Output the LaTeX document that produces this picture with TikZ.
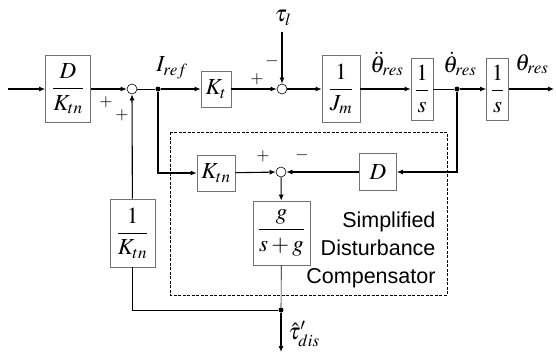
\documentclass[tikz,border=0pt]{standalone}
\usepackage{mathptmx}
\usepackage[no-math]{fontspec}
\newfontfamily\capfont{Liberation Sans}
\usetikzlibrary{arrows.meta, positioning, calc}

\begin{document}
\begin{tikzpicture}[x=1pt, y=-1pt,
  blk/.style={draw=black!55, line width=0.6pt, inner sep=1pt,
    font=\fontsize{23}{26}\selectfont},
  sumnode/.style={circle, draw, line width=0.6pt, minimum size=10pt, inner sep=0pt},
  dotnode/.style={circle, fill, minimum size=5pt, inner sep=0pt},
  sig/.style={-{Latex[length=6pt,width=5pt]}, line width=1.1pt},
  thinwire/.style={line width=0.6pt},
  lbl/.style={font=\fontsize{23}{26}\selectfont, inner sep=1pt},
  sgn/.style={font=\fontsize{17}{18}\selectfont}]

  \useasboundingbox (0,0) rectangle (556,353);

  % forward path
  \coordinate (in) at (8,89);
  \node[blk, minimum width=45pt, minimum height=67pt] (dk) at (68,89) {$\displaystyle\frac{D}{K_{tn}}$};
  \node[sumnode] (sum1) at (132,89) {};
  \node[dotnode] (dot1) at (158,89) {};
  \node[blk, minimum width=30pt, minimum height=36pt] (kt) at (216,89) {$K_t$};
  \node[sumnode] (sum2) at (282,89) {};
  \coordinate (tau) at (282,32);
  \node[blk, minimum width=38pt, minimum height=67pt] (jm) at (341,89) {$\displaystyle\frac{1}{J_m}$};
  \node[blk, minimum width=22pt, minimum height=62pt] (s1) at (422,89) {$\displaystyle\frac{1}{s}$};
  \node[dotnode] (dot2) at (457,89) {};
  \node[blk, minimum width=22pt, minimum height=62pt] (s2) at (497.5,89) {$\displaystyle\frac{1}{s}$};
  \coordinate (out) at (554,89);

  % compensator
  \node[blk, minimum width=38pt, minimum height=36pt] (ktn) at (216,173) {$K_{tn}$};
  \node[sumnode] (sum3) at (281,172) {};
  \node[blk, minimum width=37pt, minimum height=37pt] (d) at (378,172) {$D$};
  \node[blk, minimum width=57pt, minimum height=64pt] (gs) at (281.5,233) {$\displaystyle\frac{g}{s+g}$};
  \node[blk, minimum width=45pt, minimum height=68pt] (ik) at (132.5,233) {$\displaystyle\frac{1}{K_{tn}}$};
  \node[dotnode] (dot3) at (281,310) {};
  \coordinate (dis) at (281,352);

  \draw[dash pattern=on 3pt off 1.5pt, line width=0.8pt] (170,132) rectangle (447,295);
  \node[anchor=east, align=right, font=\capfont\fontsize{21.5}{28}\selectfont] (cap) at (439,250)
    {Simplified\\Disturbance\\Compensator};

  % signals
  \draw[sig] (in) -- (dk);
  \draw[sig] (dk) -- (sum1);
  \draw[thinwire] (sum1) -- (dot1);
  \draw[sig] (dot1) -- (kt);
  \draw[sig] (kt) -- (sum2);
  \draw[sig] (tau) -- (sum2);
  \draw[sig] (sum2) -- (jm);
  \draw[sig] (jm) -- (s1);
  \draw[thinwire] (s1) -- (dot2);
  \draw[sig] (dot2) -- (s2);
  \draw[sig] (s2) -- (out);
  \draw[sig] (dot1) |- (ktn);
  \draw[sig] (ktn) -- (sum3);
  \draw[sig] (dot2) |- (d);
  \draw[sig] (d) -- (sum3);
  \draw[sig] (sum3) -- (gs);
  \draw[thinwire] (gs) -- (dot3);
  \draw[thinwire] (ik) |- (dot3);
  \draw[sig] (dot3) -- (dis);
  \draw[sig] (ik) -- (sum1);

  % labels
  \node[lbl] (iref) at (172,68) {$I_{ref}$};
  \node[lbl] (taul) at (283,18) {$\tau_l$};
  \node[lbl] (acc) at (387,64) {$\ddot{\theta}_{res}$};
  \node[lbl] (vel) at (460,64) {$\dot{\theta}_{res}$};
  \node[lbl] (pos) at (532,64) {$\theta_{res}$};
  \node[lbl] (taudis) at (304,334) {$\hat{\tau}'_{dis}$};
  \node[sgn] at (106,102) {$+$};
  \node[sgn] at (122,115) {$+$};
  \node[sgn] at (257,79) {$+$};
  \node[sgn] at (272,61) {$-$};
  \node[sgn] at (263,156) {$+$};
  \node[sgn] at (302,155) {$-$};
\end{tikzpicture}
\end{document}
